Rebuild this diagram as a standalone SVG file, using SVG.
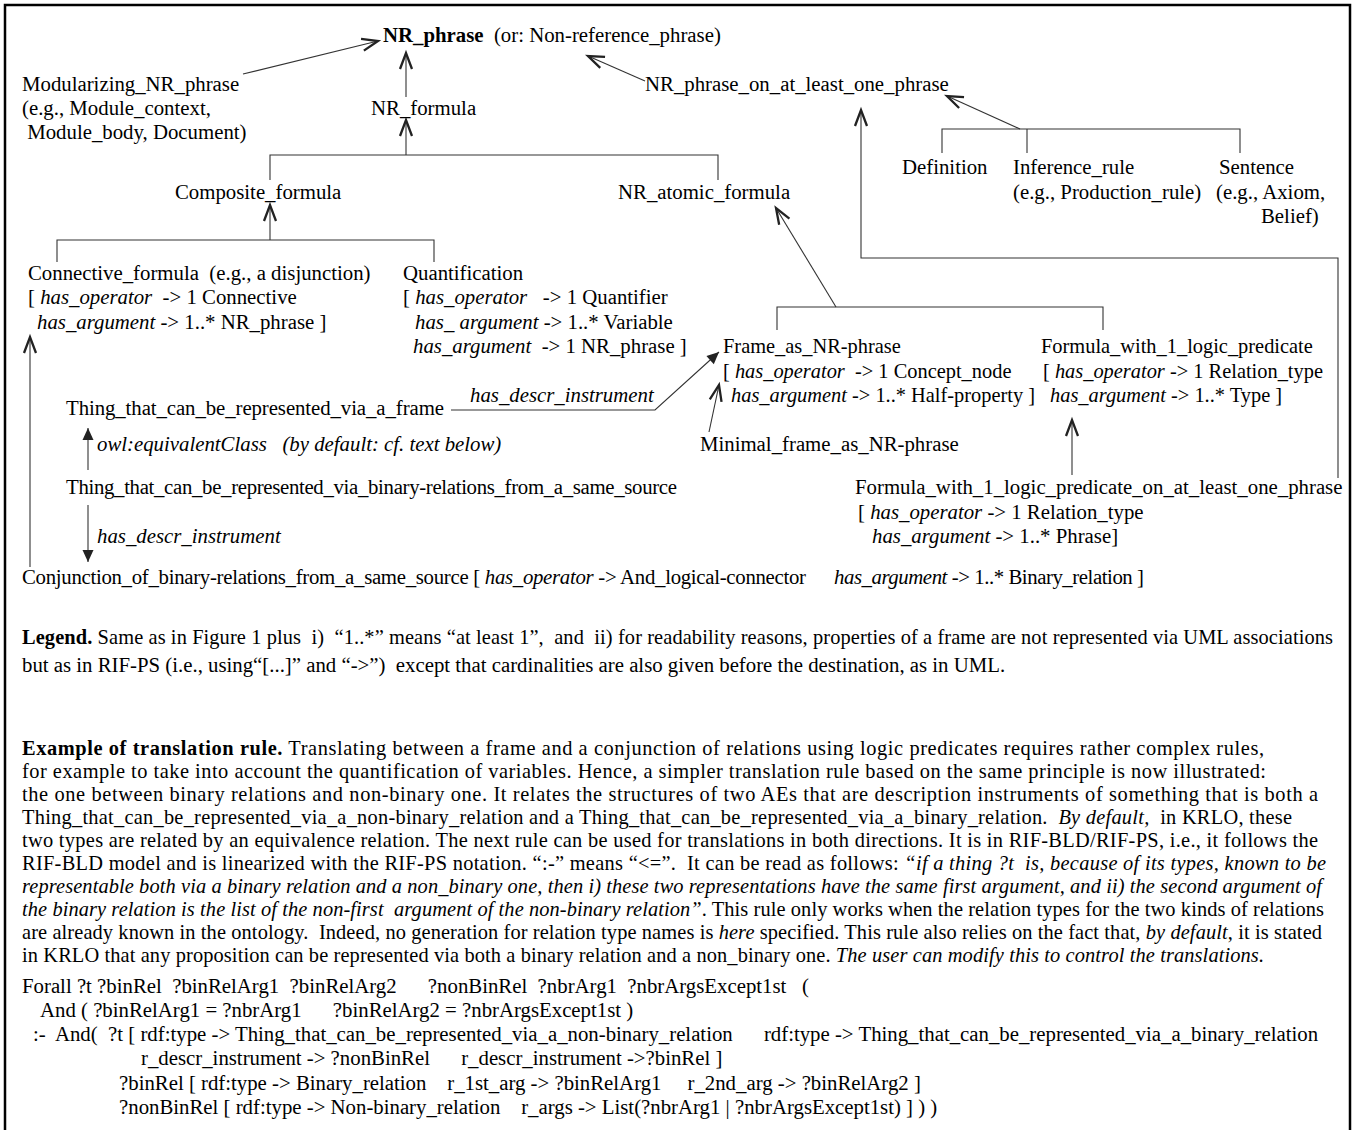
<svg xmlns="http://www.w3.org/2000/svg" width="1356" height="1130" viewBox="0 0 1356 1130">
<style>
text{font-family:"Liberation Serif","Times New Roman",serif;font-size:20.8px;fill:#000;white-space:pre}
.p{font-size:20.4px}
.b{font-weight:bold}
.i{font-style:italic}
.c{fill:none;stroke:#333;stroke-width:1.1}
.gen{marker-end:url(#open)}
.fil{marker-end:url(#filled)}
</style>
<defs>
<marker id="open" markerUnits="userSpaceOnUse" markerWidth="22" markerHeight="16" refX="17" refY="7" orient="auto" overflow="visible">
<path d="M1,1 L17,7 L1,13" fill="none" stroke="#222" stroke-width="2.3" stroke-linejoin="miter"/>
</marker>
<marker id="filled" markerUnits="userSpaceOnUse" markerWidth="14" markerHeight="12" refX="12" refY="5.5" orient="auto" overflow="visible">
<path d="M0,0 L12,5.5 L0,11 z" fill="#222"/>
</marker>
</defs>
<rect x="5" y="5" width="1345" height="1150" fill="#fff" stroke="#000" stroke-width="2.5"/>

<g id="connectors">
<line class="c gen" x1="243" y1="74" x2="378" y2="41"/>
<line class="c gen" x1="406" y1="97" x2="406" y2="53"/>
<line class="c gen" x1="645" y1="81" x2="588" y2="56"/>
<line class="c gen" x1="406" y1="155" x2="406" y2="120"/>
<polyline class="c" points="270,180 270,155 718,155 718,180"/>
<line class="c gen" x1="1020" y1="129" x2="947" y2="96"/>
<polyline class="c" points="942,153 942,129 1240,129 1240,153"/>
<line class="c" x1="1027" y1="129" x2="1027" y2="153"/>
<line class="c gen" x1="270" y1="240" x2="270" y2="205"/>
<polyline class="c" points="57,262 57,240 434,240 434,262"/>
<line class="c gen" x1="836" y1="307" x2="776" y2="208"/>
<polyline class="c" points="777,330 777,307 1103,307 1103,330"/>
<polyline class="c gen" points="1338,478 1338,258 861,258 861,110"/>
<line class="c gen" x1="1072" y1="475" x2="1072" y2="420"/>
<line class="c gen" x1="709" y1="432" x2="719" y2="385"/>
<polyline class="c fil" points="451,410 655,410 719,352"/>
<line class="c fil" x1="88" y1="470" x2="88" y2="428"/>
<line class="c fil" x1="88" y1="505" x2="88" y2="562"/>
<line class="c gen" x1="30" y1="567" x2="30" y2="337"/>
</g>

<g id="nr_phrase"><text x="383" y="42"><tspan class="b">NR_phrase</tspan>  (or: Non-reference_phrase)</text></g>
<g id="modularizing"><text x="22" y="91">Modularizing_NR_phrase</text><text x="22" y="115">(e.g., Module_context,</text><text x="22" y="139"> Module_body, Document)</text></g>
<g id="nr_formula"><text x="371" y="115">NR_formula</text></g>
<g id="nr_phrase_on"><text x="645" y="91">NR_phrase_on_at_least_one_phrase</text></g>
<g id="definition"><text x="902" y="174">Definition</text></g>
<g id="inference_rule"><text x="1013" y="174">Inference_rule</text><text x="1013" y="199">(e.g., Production_rule)</text></g>
<g id="sentence"><text x="1219" y="174">Sentence</text><text x="1216" y="199">(e.g., Axiom,</text><text x="1261" y="223">Belief)</text></g>
<g id="composite"><text x="175" y="199">Composite_formula</text></g>
<g id="nr_atomic"><text x="618" y="199">NR_atomic_formula</text></g>
<g id="connective"><text x="28" y="280">Connective_formula  (e.g., a disjunction)</text><text x="28" y="304">[ <tspan class="i">has_operator</tspan>  -&gt; 1 Connective</text><text x="37" y="329"><tspan class="i">has_argument</tspan> -&gt; 1..* NR_phrase ]</text></g>
<g id="quantification"><text x="403" y="280">Quantification</text><text x="403" y="304">[ <tspan class="i">has_operator</tspan>   -&gt; 1 Quantifier</text><text x="415" y="329"><tspan class="i">has_ argument</tspan> -&gt; 1..* Variable</text><text x="413" y="353"><tspan class="i">has_argument</tspan>  -&gt; 1 NR_phrase ]</text></g>
<g id="frame"><text class="p" x="723" y="353">Frame_as_NR-phrase</text><text class="p" x="723" y="378">[ <tspan class="i">has_operator</tspan>  -&gt; 1 Concept_node</text><text class="p" x="731" y="402"><tspan class="i">has_argument</tspan> -&gt; 1..* Half-property ]</text></g>
<g id="formula1"><text class="p" x="1041" y="353">Formula_with_1_logic_predicate</text><text class="p" x="1043" y="378">[ <tspan class="i">has_operator</tspan> -&gt; 1 Relation_type</text><text class="p" x="1050" y="402"><tspan class="i">has_argument</tspan> -&gt; 1..* Type ]</text></g>
<g id="minimal_frame"><text x="700" y="451">Minimal_frame_as_NR-phrase</text></g>
<g id="thing_frame"><text x="66" y="415" textLength="378">Thing_that_can_be_represented_via_a_frame</text></g>
<g id="label_descr1"><text class="i" x="470" y="402">has_descr_instrument</text></g>
<g id="label_equiv"><text class="i" x="97" y="451">owl:equivalentClass   (by default: cf. text below)</text></g>
<g id="thing_binary"><text x="66" y="494" textLength="611">Thing_that_can_be_represented_via_binary-relations_from_a_same_source</text></g>
<g id="label_descr2"><text class="i" x="97" y="543">has_descr_instrument</text></g>
<g id="conjunction"><text x="22" y="584" textLength="784">Conjunction_of_binary-relations_from_a_same_source [ <tspan class="i">has_operator</tspan> -&gt; And_logical-connector</text><text x="834" y="584" textLength="310"><tspan class="i">has_argument</tspan> -&gt; 1..* Binary_relation ]</text></g>
<g id="formula1_on"><text x="855" y="494">Formula_with_1_logic_predicate_on_at_least_one_phrase</text><text x="858" y="519">[ <tspan class="i">has_operator</tspan> -&gt; 1 Relation_type</text><text x="872" y="543"><tspan class="i">has_argument</tspan> -&gt; 1..* Phrase]</text></g>

<g id="legend">
<text class="p" x="22" y="644" textLength="1311"><tspan class="b">Legend.</tspan> Same as in Figure 1 plus  i)  “1..*” means “at least 1”,  and  ii) for readability reasons, properties of a frame are not represented via UML associations</text>
<text x="22" y="672">but as in RIF-PS (i.e., using“[...]” and “-&gt;”)  except that cardinalities are also given before the destination, as in UML.</text>
</g>

<g id="example">
<text class="p" x="22" y="755" textLength="1242"><tspan class="b">Example of translation rule.</tspan> Translating between a frame and a conjunction of relations using logic predicates requires rather complex rules,</text>
<text class="p" x="22" y="778" textLength="1244">for example to take into account the quantification of variables. Hence, a simpler translation rule based on the same principle is now illustrated:</text>
<text class="p" x="22" y="801" textLength="1296">the one between binary relations and non-binary one. It relates the structures of two AEs that are description instruments of something that is both a</text>
<text class="p" x="22" y="824" textLength="1270">Thing_that_can_be_represented_via_a_non-binary_relation and a Thing_that_can_be_represented_via_a_binary_relation.  <tspan class="i">By default,</tspan>  in KRLO, these</text>
<text class="p" x="22" y="847" textLength="1296">two types are related by an equivalence relation. The next rule can be used for translations in both directions. It is in RIF-BLD/RIF-PS, i.e., it follows the</text>
<text class="p" x="22" y="870" textLength="1304">RIF-BLD model and is linearized with the RIF-PS notation. “:-” means “&lt;=”.  It can be read as follows: <tspan class="i">“if a thing ?t  is, because of its types, known to be</tspan></text>
<text class="p i" x="22" y="893" textLength="1300">representable both via a binary relation and a non_binary one, then i) these two representations have the same first argument, and ii) the second argument of</text>
<text class="p" x="22" y="916" textLength="1302"><tspan class="i">the binary relation is the list of the non-first  argument of the non-binary relation”</tspan>. This rule only works when the relation types for the two kinds of relations</text>
<text class="p" x="22" y="939" textLength="1300">are already known in the ontology.  Indeed, no generation for relation type names is <tspan class="i">here</tspan> specified. This rule also relies on the fact that, <tspan class="i">by default</tspan>, it is stated</text>
<text class="p" x="22" y="962" textLength="1242">in KRLO that any proposition can be represented via both a binary relation and a non_binary one. <tspan class="i">The user can modify this to control the translations.</tspan></text>
</g>

<g id="rule">
<text x="22" y="993">Forall ?t ?binRel  ?binRelArg1  ?binRelArg2      ?nonBinRel  ?nbrArg1  ?nbrArgsExcept1st   (</text>
<text x="40" y="1017">And ( ?binRelArg1 = ?nbrArg1      ?binRelArg2 = ?nbrArgsExcept1st )</text>
<text x="33" y="1041">:-  And(  ?t [ rdf:type -&gt; Thing_that_can_be_represented_via_a_non-binary_relation      rdf:type -&gt; Thing_that_can_be_represented_via_a_binary_relation</text>
<text x="141" y="1065">r_descr_instrument -&gt; ?nonBinRel      r_descr_instrument -&gt;?binRel ]</text>
<text x="119" y="1090">?binRel [ rdf:type -&gt; Binary_relation    r_1st_arg -&gt; ?binRelArg1     r_2nd_arg -&gt; ?binRelArg2 ]</text>
<text x="119" y="1114">?nonBinRel [ rdf:type -&gt; Non-binary_relation    r_args -&gt; List(?nbrArg1 | ?nbrArgsExcept1st) ] ) )</text>
</g>
</svg>
